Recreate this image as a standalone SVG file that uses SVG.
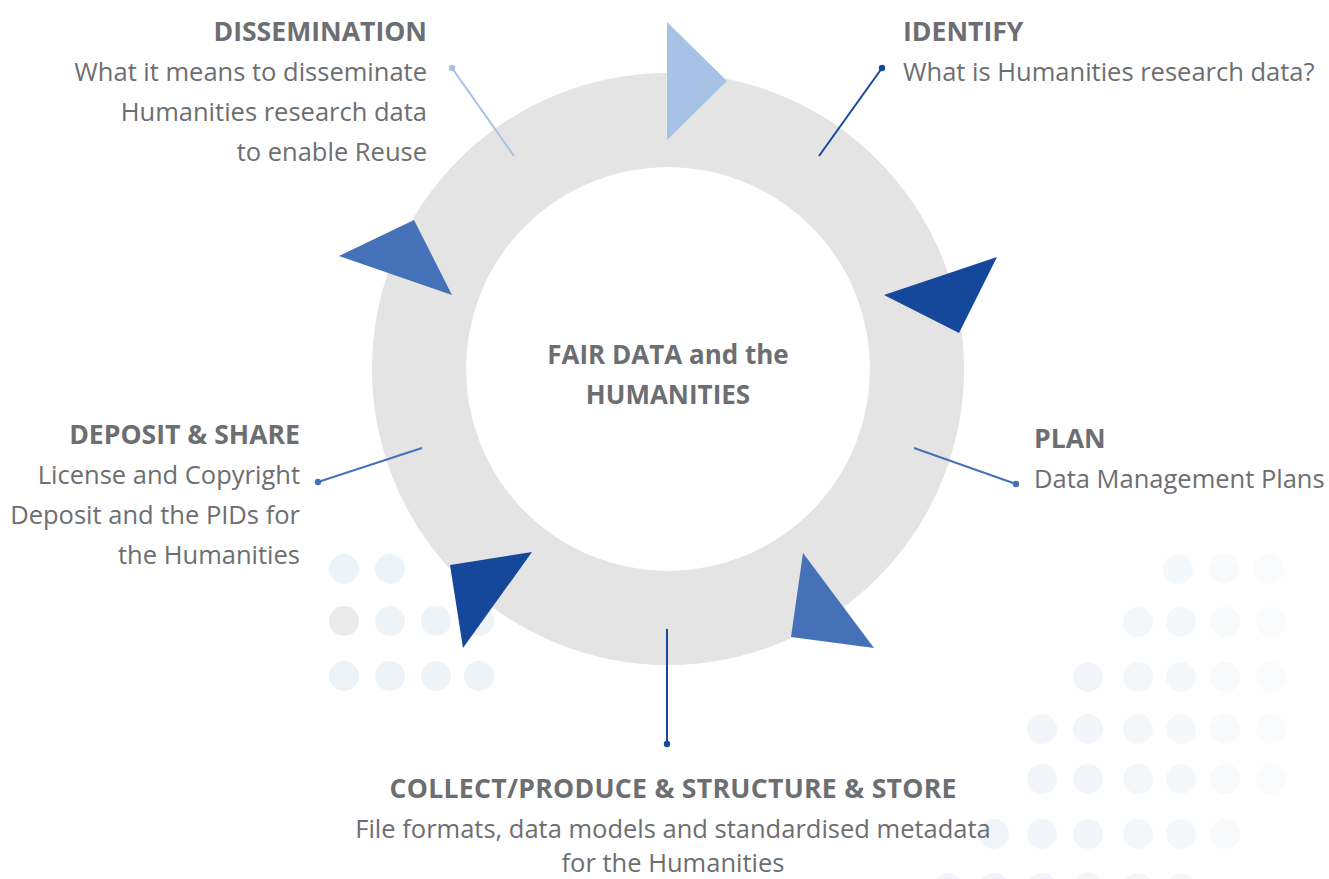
<svg xmlns="http://www.w3.org/2000/svg" width="1329" height="879" viewBox="0 0 1329 879">
<style>
.h{font-family:"Open Sans","Noto Sans","Liberation Sans",sans-serif;font-weight:bold;font-size:26.6px;fill:#6d6e71}
.b{font-family:"Open Sans","Noto Sans","Liberation Sans",sans-serif;font-size:25.5px;fill:#6d6e71}
.c{font-family:"Open Sans","Noto Sans","Liberation Sans",sans-serif;font-weight:bold;font-size:26px;fill:#6d6e71}
.dl{fill:#eef3f8}
.dr{fill:#eff3f8}
.lt{fill:#a6c3e6}
.md{fill:#4471b8}
.dk{fill:#15489a}
</style>
<rect width="1329" height="879" fill="#ffffff"/>
<g id="dots-left">
<circle class="dl" cx="344" cy="569" r="15"/><circle class="dl" cx="390" cy="569" r="15"/>
<circle cx="344" cy="621" r="15" fill="#ebebeb"/><circle class="dl" cx="390" cy="621" r="15"/><circle class="dl" cx="436" cy="621" r="15"/><circle class="dl" cx="479" cy="621" r="15"/>
<circle class="dl" cx="344" cy="676" r="15"/><circle class="dl" cx="390" cy="676" r="15"/><circle class="dl" cx="436" cy="676" r="15"/><circle class="dl" cx="479" cy="676" r="15"/>
</g>
<g id="dots-right">
<circle class="dr" cx="1178" cy="569" r="15" opacity="0.6"/><circle class="dr" cx="1224" cy="569" r="15" opacity="0.5"/><circle class="dr" cx="1269" cy="569" r="15" opacity="0.3"/>
<circle class="dr" cx="1138" cy="622" r="15" opacity="0.7"/><circle class="dr" cx="1181" cy="622" r="15" opacity="0.6"/><circle class="dr" cx="1225" cy="622" r="15" opacity="0.5"/><circle class="dr" cx="1271" cy="622" r="15" opacity="0.3"/>
<circle class="dr" cx="1088" cy="677" r="15" opacity="0.8"/><circle class="dr" cx="1138" cy="677" r="15" opacity="0.7"/><circle class="dr" cx="1181" cy="677" r="15" opacity="0.6"/><circle class="dr" cx="1225" cy="677" r="15" opacity="0.5"/><circle class="dr" cx="1271" cy="677" r="15" opacity="0.3"/>
<circle class="dr" cx="1042" cy="729" r="15" opacity="0.8"/><circle class="dr" cx="1088" cy="729" r="15" opacity="0.8"/><circle class="dr" cx="1138" cy="729" r="15" opacity="0.7"/><circle class="dr" cx="1181" cy="729" r="15" opacity="0.6"/><circle class="dr" cx="1225" cy="729" r="15" opacity="0.5"/><circle class="dr" cx="1271" cy="729" r="15" opacity="0.3"/>
<circle class="dr" cx="1042" cy="779" r="15" opacity="0.8"/><circle class="dr" cx="1088" cy="779" r="15" opacity="0.8"/><circle class="dr" cx="1138" cy="779" r="15" opacity="0.7"/><circle class="dr" cx="1181" cy="779" r="15" opacity="0.6"/><circle class="dr" cx="1225" cy="779" r="15" opacity="0.5"/><circle class="dr" cx="1271" cy="779" r="15" opacity="0.3"/>
<circle class="dr" cx="994" cy="834" r="15" opacity="0.9"/><circle class="dr" cx="1042" cy="834" r="15" opacity="0.8"/><circle class="dr" cx="1088" cy="834" r="15" opacity="0.8"/><circle class="dr" cx="1138" cy="834" r="15" opacity="0.7"/><circle class="dr" cx="1181" cy="834" r="15" opacity="0.6"/><circle class="dr" cx="1225" cy="834" r="15" opacity="0.5"/>
<circle class="dr" cx="948" cy="888" r="15" opacity="0.9"/><circle class="dr" cx="994" cy="888" r="15" opacity="0.9"/><circle class="dr" cx="1042" cy="888" r="15" opacity="0.8"/><circle class="dr" cx="1088" cy="888" r="15" opacity="0.8"/><circle class="dr" cx="1138" cy="888" r="15" opacity="0.7"/><circle class="dr" cx="1181" cy="888" r="15" opacity="0.6"/>
</g>
<g id="ring">
<circle cx="668" cy="369" r="249" fill="none" stroke="#e4e4e4" stroke-width="94"/>
</g>
<g id="arrows">
<polygon class="lt" points="667,22 667,140 727,81"/>
<polygon class="dk" points="884,295 997,257 959,333"/>
<polygon class="md" points="803,553 791,637 874,648"/>
<polygon class="dk" points="450,565 532,552 463,648"/>
<polygon class="md" points="339,256 414,220 452,295"/>
</g>
<g id="connectors">
<line x1="514" y1="156" x2="452" y2="68" stroke="#a6c3e6" stroke-width="2"/><circle cx="452" cy="68" r="3.2" fill="#a6c3e6"/>
<line x1="819" y1="156" x2="882" y2="68" stroke="#15489a" stroke-width="2"/><circle cx="882" cy="68" r="3.2" fill="#15489a"/>
<line x1="914" y1="448" x2="1016" y2="484" stroke="#4471b8" stroke-width="2"/><circle cx="1016" cy="484" r="3.2" fill="#4471b8"/>
<line x1="422" y1="448" x2="318" y2="482" stroke="#4471b8" stroke-width="2"/><circle cx="318" cy="482" r="3.2" fill="#4471b8"/>
<line x1="667" y1="629" x2="667" y2="744" stroke="#15489a" stroke-width="2"/><circle cx="667" cy="744" r="3.2" fill="#15489a"/>
</g>
<g id="center">
<text class="c" x="668" y="364" text-anchor="middle">FAIR DATA and the</text>
<text class="c" x="668" y="404" text-anchor="middle">HUMANITIES</text>
</g>
<g id="dissemination" text-anchor="end">
<text class="h" x="427" y="41">DISSEMINATION</text>
<text class="b" x="427" y="81">What it means to disseminate</text>
<text class="b" x="427" y="121">Humanities research data</text>
<text class="b" x="427" y="161">to enable Reuse</text>
</g>
<g id="identify">
<text class="h" x="903" y="41">IDENTIFY</text>
<text class="b" x="903" y="81">What is Humanities research data?</text>
</g>
<g id="plan">
<text class="h" x="1034" y="448">PLAN</text>
<text class="b" x="1034" y="488">Data Management Plans</text>
</g>
<g id="deposit" text-anchor="end">
<text class="h" x="300" y="444">DEPOSIT &amp; SHARE</text>
<text class="b" x="300" y="484">License and Copyright</text>
<text class="b" x="300" y="524">Deposit and the PIDs for</text>
<text class="b" x="300" y="564">the Humanities</text>
</g>
<g id="collect" text-anchor="middle">
<text class="h" x="673" y="798" textLength="567">COLLECT/PRODUCE &amp; STRUCTURE &amp; STORE</text>
<text class="b" x="673" y="838">File formats, data models and standardised metadata</text>
<text class="b" x="673" y="872">for the Humanities</text>
</g>
</svg>
